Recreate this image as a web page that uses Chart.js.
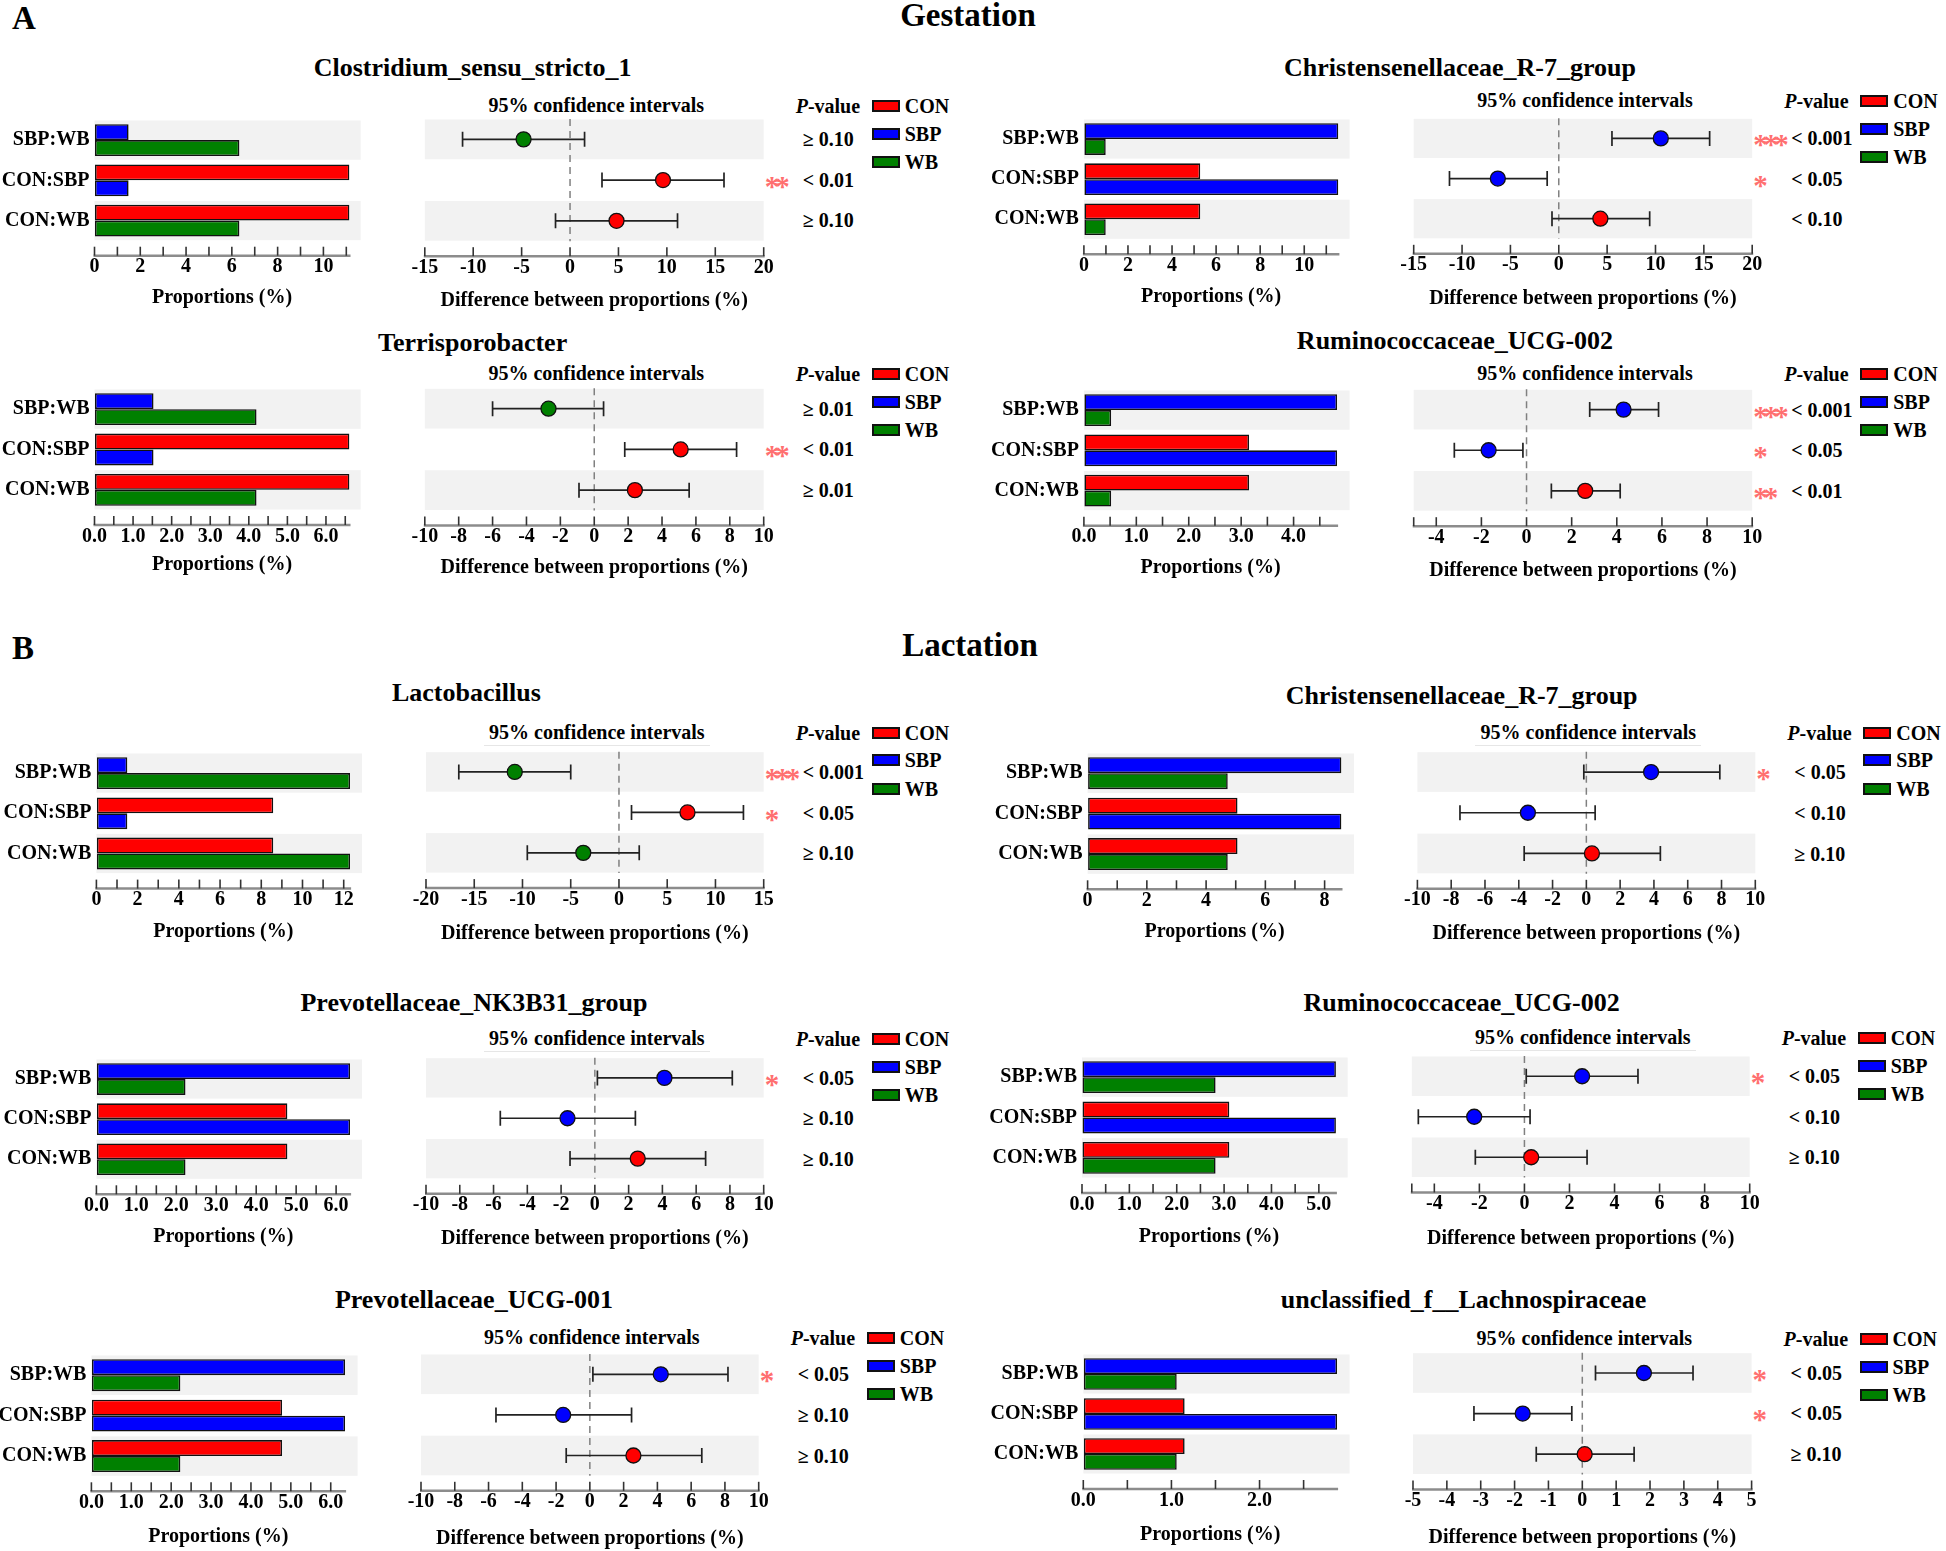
<!DOCTYPE html>
<html><head><meta charset="utf-8">
<script src="https://cdn.jsdelivr.net/npm/chart.js@4.4.0/dist/chart.umd.min.js"></script>
<style>
html,body{margin:0;padding:0;background:#fff;}
body{width:1946px;height:1551px;position:relative;overflow:hidden;font-family:"Liberation Serif","Times New Roman",serif;font-weight:bold;color:#000;}
.t{position:absolute;white-space:nowrap;line-height:1;}
.c{transform:translate(-50%,-50%);}
.l{transform:translateY(-50%);}
canvas{position:absolute;}
.box{position:absolute;width:24px;height:8px;border:2px solid #111;}
</style></head><body>
<script>
// ---------------- DATA ----------------
const sectionTitles = ['Gestation', 'Lactation'];
const sectionLetters = ['A', 'B'];
const panelTitles = ['Clostridium_sensu_stricto_1', 'Christensenellaceae_R-7_group', 'Terrisporobacter',
  'Ruminococcaceae_UCG-002', 'Lactobacillus', 'Christensenellaceae_R-7_group', 'Prevotellaceae_NK3B31_group',
  'Ruminococcaceae_UCG-002', 'Prevotellaceae_UCG-001', 'unclassified_f__Lachnospiraceae'];
const rowLabels = ['SBP:WB', 'CON:SBP', 'CON:WB'];
const groups = ['CON', 'SBP', 'WB'];

// mean proportions (%) per panel
const propCON = [11.14, 5.28, 6.61, 3.15, 8.58, 5.06, 4.78, 3.11, 4.78, 1.15];
const propSBP = [1.49, 11.55, 1.53, 4.83, 1.50, 8.57, 6.35, 5.36, 6.36, 2.88];
const propWB  = [6.33, 0.99, 4.20, 0.52, 12.31, 4.73, 2.23, 2.82, 2.23, 1.06];

// difference between proportions, rows SBP:WB, CON:SBP, CON:WB
const diffMean = [[-4.8, 9.6, 4.8], [10.55, -6.3, 4.3], [-2.7, 5.1, 2.4], [4.3, -1.68, 2.6], [-10.8, 7.1, -3.7],
  [3.83, -3.46, 0.33], [4.12, -1.62, 2.54], [2.56, -2.23, 0.30], [4.20, -1.58, 2.58], [1.82, -1.76, 0.07]];
const diffLow = [[-11.1, 3.3, -1.5], [5.5, -11.3, -0.7], [-6.0, 1.8, -0.9], [2.8, -3.2, 1.1], [-16.6, 1.3, -9.5],
  [-0.15, -7.48, -3.68], [0.15, -5.6, -1.47], [0.08, -4.71, -2.18], [0.18, -5.56, -1.4], [0.39, -3.2, -1.36]];
const diffHigh = [[1.5, 15.9, 11.1], [15.6, -1.2, 9.4], [0.55, 8.4, 5.6], [5.85, -0.16, 4.15], [-5.0, 12.9, 2.1],
  [7.9, 0.52, 4.38], [8.14, 2.4, 6.56], [5.04, 0.25, 2.78], [8.18, 2.47, 6.63], [3.27, -0.31, 1.53]];

const pValues = [['≥ 0.10', '< 0.01', '≥ 0.10'], ['< 0.001', '< 0.05', '< 0.10'], ['≥ 0.01', '< 0.01', '≥ 0.01'],
  ['< 0.001', '< 0.05', '< 0.01'], ['< 0.001', '< 0.05', '≥ 0.10'], ['< 0.05', '< 0.10', '≥ 0.10'],
  ['< 0.05', '≥ 0.10', '≥ 0.10'], ['< 0.05', '< 0.10', '≥ 0.10'], ['< 0.05', '≥ 0.10', '≥ 0.10'], ['< 0.05', '< 0.05', '≥ 0.10']];
const stars = [['', '**', ''], ['***', '*', ''], ['', '**', ''], ['***', '*', '**'], ['***', '*', ''],
  ['*', '', ''], ['*', '', ''], ['*', '', ''], ['*', '', ''], ['*', '*', '']];

// tick labels
const propTickLabels = [['0','2','4','6','8','10'], ['0','2','4','6','8','10'], ['0.0','1.0','2.0','3.0','4.0','5.0','6.0'],
  ['0.0','1.0','2.0','3.0','4.0'], ['0','2','4','6','8','10','12'], ['0','2','4','6','8'],
  ['0.0','1.0','2.0','3.0','4.0','5.0','6.0'], ['0.0','1.0','2.0','3.0','4.0','5.0'], ['0.0','1.0','2.0','3.0','4.0','5.0','6.0'],
  ['0.0','1.0','2.0']];
const propMinorStep = [1, 1, 0.5, 0.5, 1, 1, 0.5, 0.5, 0.5, 0.5];
const diffTickLabels = [['-15','-10','-5','0','5','10','15','20'], ['-15','-10','-5','0','5','10','15','20'],
  ['-10','-8','-6','-4','-2','0','2','4','6','8','10'], ['-4','-2','0','2','4','6','8','10'],
  ['-20','-15','-10','-5','0','5','10','15'], ['-10','-8','-6','-4','-2','0','2','4','6','8','10'],
  ['-10','-8','-6','-4','-2','0','2','4','6','8','10'], ['-4','-2','0','2','4','6','8','10'],
  ['-10','-8','-6','-4','-2','0','2','4','6','8','10'], ['-5','-4','-3','-2','-1','0','1','2','3','4','5']];
const diffAxisMin = [-15, -15, -10, -5, -20, -10, -10, -5, -10, -5];
const diffAxisMax = [20, 20, 10, 10, 15, 10, 10, 10, 10, 5];

// ---------------- LAYOUT (positions only) ----------------
const layout = [
 {tx:472.6, ty:68, ci:105, rt:119, rb:240.7, bl:94.5, br:349.5, bandR:360.7, fl:424.8, fr:763.7, at:298},
 {tx:1460, ty:68.3, ci:100, rt:118.3, rb:239, bl:1083.9, br:1338.4, bandR:1349.6, fl:1413.7, fr:1752.2, at:296.7},
 {tx:472.6, ty:342.7, ci:373.3, rt:388.3, rb:510, bl:94.5, br:349.5, bandR:360.7, fl:424.8, fr:763.7, at:565},
 {tx:1455, ty:340.7, ci:373.3, rt:389.3, rb:511, bl:1083.9, br:1337.1, bandR:1349.6, fl:1413.7, fr:1752.2, at:568.3},
 {tx:466.4, ty:693.3, ci:731.7, rt:751.7, rb:873.3, bl:96.4, br:350.1, bandR:362, fl:426, fr:763.7, at:931.7, ul:true},
 {tx:1461.6, ty:696, ci:731.7, rt:751.7, rb:874, bl:1087.6, br:1341.5, bandR:1354, fl:1417.4, fr:1755.3, at:931.7, ul:true},
 {tx:474, ty:1002.7, ci:1038.3, rt:1057.7, rb:1179, bl:96.4, br:350.1, bandR:362, fl:426, fr:763.7, at:1236.7, ul:true},
 {tx:1461.6, ty:1003.3, ci:1037.3, rt:1056, rb:1177.7, bl:1082, br:1335.9, bandR:1347.7, fl:1411.8, fr:1749.7, at:1236.7, ul:true},
 {tx:474, ty:1300, ci:1337.3, rt:1354, rb:1476, bl:91.4, br:345.1, bandR:357.6, fl:421, fr:758.7, at:1536.7},
 {tx:1463.5, ty:1300, ci:1338.3, rt:1352.7, rb:1474, bl:1083.3, br:1337.1, bandR:1349.6, fl:1413, fr:1751.6, at:1535}
];
const headerPos = [{lx:12, ly:18, sx:968, sy:15}, {lx:12, ly:648, sx:970, sy:645}];

const COLORS = {CON:'#FF0000', SBP:'#0000FF', WB:'#008000'};
const rowPairs = [['SBP','WB'], ['CON','SBP'], ['CON','WB']];
const FONT = '"Liberation Serif", "Times New Roman", serif';
Chart.defaults.font.family = FONT;
Chart.defaults.font.weight = 'bold';
Chart.defaults.font.size = 20;
Chart.defaults.color = '#000';

// ---------------- helpers ----------------
function txt(html, x, y, size, mode, extra) {
  const d = document.createElement('div');
  d.className = 't ' + mode;
  d.style.left = x + 'px'; d.style.top = y + 'px'; d.style.fontSize = size + 'px';
  d.innerHTML = html;
  if (extra) Object.assign(d.style, extra);
  document.body.appendChild(d);
  return d;
}
function mkCanvas(x, y, w, h) {
  const c = document.createElement('canvas');
  c.width = w; c.height = h;
  c.style.left = x + 'px'; c.style.top = y + 'px';
  c.style.width = w + 'px'; c.style.height = h + 'px';
  document.body.appendChild(c);
  return c;
}
const bandsPlugin = {
  id: 'bands',
  beforeDatasetsDraw(chart, args, opts) {
    const ctx = chart.ctx, ca = chart.chartArea, ys = chart.scales.y;
    const h = ca.height / 3;
    const right = (opts.right != null) ? opts.right : ca.right;
    ctx.save();
    ctx.fillStyle = '#f2f2f2';
    [0, 2].forEach(r => {
      const cy = ys.getPixelForValue(r);
      ctx.fillRect(ca.left, cy - h / 2 + 0.5, right - ca.left, h - 1);
    });
    if (opts.zero) {
      const x0 = chart.scales.x.getPixelForValue(0);
      ctx.strokeStyle = '#808080'; ctx.lineWidth = 1.5; ctx.setLineDash([7, 5]);
      ctx.beginPath(); ctx.moveTo(x0, ca.top); ctx.lineTo(x0, ca.bottom); ctx.stroke();
    }
    ctx.restore();
  }
};
const axisPlugin = {
  id: 'axisDeco',
  afterDraw(chart) {
    const ctx = chart.ctx, ca = chart.chartArea, xs = chart.scales.x;
    const ay = ca.bottom + 15;
    ctx.save();
    ctx.strokeStyle = '#8c8c8c'; ctx.lineWidth = 2.5;
    ctx.beginPath(); ctx.moveTo(ca.left - 1, ay); ctx.lineTo(ca.right + 1, ay); ctx.stroke();
    ctx.strokeStyle = '#333'; ctx.lineWidth = 1.6;
    xs.ticks.forEach(t => {
      const px = xs.getPixelForValue(t.value);
      ctx.beginPath(); ctx.moveTo(px, ay - 9); ctx.lineTo(px, ay); ctx.stroke();
    });
    ctx.restore();
  }
};
function matchLabel(list, v) {
  for (const s of list) if (Math.abs(parseFloat(s) - v) < 1e-6) return s;
  return '';
}

// ---------------- headers ----------------
sectionTitles.forEach((s, k) => {
  txt(sectionLetters[k], headerPos[k].lx, headerPos[k].ly, 33, 'l');
  txt(s, headerPos[k].sx, headerPos[k].sy, 33, 'c');
});

const TOPPAD = 16;

// ---------------- panels ----------------
for (let i = 0; i < panelTitles.length; i++) {
  const L = layout[i];
  const vals = {CON: propCON[i], SBP: propSBP[i], WB: propWB[i]};
  const maxV = Math.max(vals.CON, vals.SBP, vals.WB);
  const rowH = (L.rb - L.rt) / 3;
  const rowC = [0, 1, 2].map(r => L.rt + (r + 0.5) * rowH);

  // texts
  txt(panelTitles[i], L.tx, L.ty, 26, 'c');
  const ciX = (L.fl + L.fr) / 2 + 2;
  txt('95% confidence intervals', ciX, L.ci, 20, 'c');
  if (L.ul) {
    const u = document.createElement('div');
    Object.assign(u.style, {position:'absolute', left:(ciX - 113) + 'px', top:(L.ci + 13) + 'px', width:'226px', height:'1px', background:'#e6e6e6'});
    document.body.appendChild(u);
  }
  txt('<i>P</i>-value', L.fr + 32, L.ci + 1, 20, 'l');
  groups.forEach((g, k) => {
    const ly = L.ci + [1, 28.5, 57][k];
    const b = document.createElement('div');
    b.className = 'box';
    b.style.left = (L.fr + 108) + 'px'; b.style.top = (ly - 6) + 'px'; b.style.background = COLORS[g];
    document.body.appendChild(b);
    txt(g, L.fr + 108 + 33, ly, 20, 'l');
  });
  for (let r = 0; r < 3; r++) {
    txt(pValues[i][r], L.fr + 39, rowC[r], 20, 'l');
    if (stars[i][r]) txt(stars[i][r], L.fr + 1, rowC[r] + 6, 29, 'l', {color:'#ff6f6f', letterSpacing:'-4px'});
  }

  // ---- proportions bar chart ----
  const cl = Math.round(L.bl - 100), ct = Math.round(L.rt - TOPPAD);
  const cw = Math.round(L.bandR + 6 - cl), ch = Math.round(L.at + 16 - ct);
  const bc = mkCanvas(cl, ct, cw, ch);
  const step = propMinorStep[i];
  const marks = [];
  for (let k = 0; k * step <= maxV + 1e-9; k++) marks.push(Math.round(k * step * 1000) / 1000);
  new Chart(bc, {
    type: 'bar',
    data: {
      labels: rowLabels,
      datasets: [0, 1].map(j => ({
        label: 'pos' + j,
        data: rowPairs.map(p => vals[p[j]]),
        backgroundColor: rowPairs.map(p => COLORS[p[j]]),
        borderColor: '#111', borderWidth: 1.6, borderSkipped: false,
        categoryPercentage: 0.79, barPercentage: 1.0
      }))
    },
    options: {
      indexAxis: 'y', responsive: false, maintainAspectRatio: false, animation: false, devicePixelRatio: 1,
      layout: {padding: {top: L.rt - ct, right: (cl + cw) - L.br, bottom: 4, left: 0}},
      plugins: {legend: {display: false}, tooltip: {enabled: false}, bands: {right: L.bandR - cl}},
      scales: {
        x: {
          type: 'linear', min: 0, max: maxV,
          grid: {drawOnChartArea: false, drawTicks: true, tickLength: 14.5, color: 'rgba(0,0,0,0)', tickColor: 'rgba(0,0,0,0)'},
          border: {display: false},
          ticks: {padding: 0, autoSkip: false, maxRotation: 0, minRotation: 0, color: '#000', font: {size: 20, weight: 'bold'},
            callback: v => matchLabel(propTickLabels[i], v)},
          afterBuildTicks: s => { s.ticks = marks.map(v => ({value: v})); },
          afterFit: s => { s.height = L.at + 12 - L.rb; },
          title: {display: true, text: 'Proportions (%)', color: '#000', font: {size: 20, weight: 'bold'}, padding: 0}
        },
        y: {
          type: 'category', offset: true,
          grid: {display: false, drawTicks: false}, border: {display: false},
          ticks: {padding: 5, color: '#000', font: {size: 20, weight: 'bold'}},
          afterFit: s => { s.width = L.bl - cl; }
        }
      }
    },
    plugins: [bandsPlugin, axisPlugin]
  });

  // ---- difference (CI) chart ----
  const fcl = Math.round(L.fl - 22), fct = ct;
  const fcw = Math.round(L.fr + 22 - fcl), fch = Math.round(L.at + 2.5 + 16 - fct);
  const fc = mkCanvas(fcl, fct, fcw, fch);
  const dMarks = diffTickLabels[i].map(Number);
  if (!dMarks.includes(diffAxisMin[i])) dMarks.unshift(diffAxisMin[i]);
  const rows = [0, 1, 2];
  new Chart(fc, {
    type: 'scatter',
    data: {
      datasets: [
        {
          label: 'difference',
          data: rows.map(r => ({x: diffMean[i][r], y: r})),
          pointStyle: 'circle', pointRadius: 7.5, pointHoverRadius: 7.5,
          pointBackgroundColor: rows.map(r => COLORS[diffMean[i][r] >= 0 ? rowPairs[r][0] : rowPairs[r][1]]),
          pointBorderColor: '#111', pointBorderWidth: 1.3, showLine: false
        },
        ...rows.map(r => ({
          label: 'ci' + r,
          data: [{x: diffLow[i][r], y: r}, {x: diffHigh[i][r], y: r}],
          showLine: true, borderColor: '#222', borderWidth: 1.7,
          pointStyle: 'line', pointRotation: 90, pointRadius: 7.5, pointHoverRadius: 7.5,
          pointBorderColor: '#222', pointBorderWidth: 1.7, pointBackgroundColor: '#222'
        }))
      ]
    },
    options: {
      responsive: false, maintainAspectRatio: false, animation: false, devicePixelRatio: 1,
      layout: {padding: {top: L.rt - fct, left: L.fl - fcl, right: (fcl + fcw) - L.fr, bottom: 4}},
      plugins: {legend: {display: false}, tooltip: {enabled: false}, bands: {zero: true}},
      scales: {
        x: {
          type: 'linear', min: diffAxisMin[i], max: diffAxisMax[i],
          grid: {drawOnChartArea: false, drawTicks: true, tickLength: 14.5, color: 'rgba(0,0,0,0)', tickColor: 'rgba(0,0,0,0)'},
          border: {display: false},
          ticks: {padding: 0, autoSkip: false, maxRotation: 0, minRotation: 0, color: '#000', font: {size: 20, weight: 'bold'},
            callback: v => matchLabel(diffTickLabels[i], v)},
          afterBuildTicks: s => { s.ticks = dMarks.map(v => ({value: v})); },
          afterFit: s => { s.height = L.at + 2.5 + 12 - L.rb; },
          title: {display: true, text: 'Difference between proportions (%)', color: '#000', font: {size: 20, weight: 'bold'}, padding: 0}
        },
        y: {type: 'linear', display: false, min: -0.5, max: 2.5, reverse: true}
      }
    },
    plugins: [bandsPlugin, axisPlugin]
  });
}
</script>
</body></html>
